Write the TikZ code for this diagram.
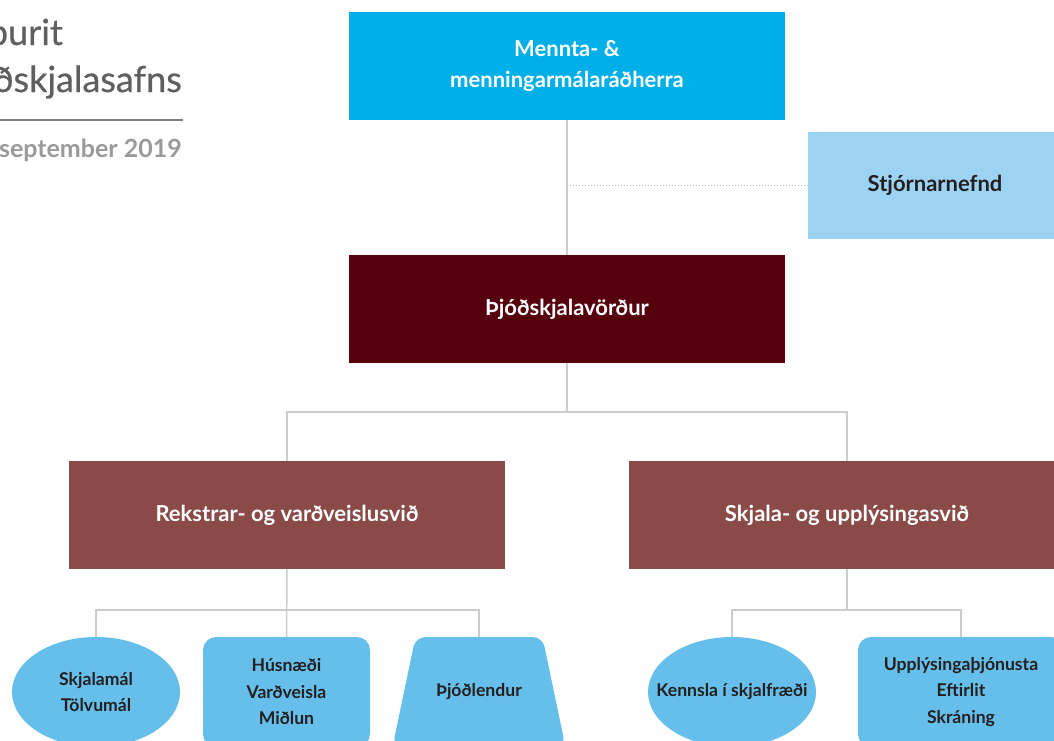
\documentclass[tikz,border=0pt]{standalone}
\usepackage{fontspec}
\setmainfont{Lato}
\newfontfamily\titlefont[FakeBold=0.6]{Lato}
\usetikzlibrary{shapes.geometric}

\definecolor{ministry}{HTML}{00AEE8}
\definecolor{board}{HTML}{9DD3F2}
\definecolor{archivist}{HTML}{56000E}
\definecolor{division}{HTML}{8A4A47}
\definecolor{unit}{HTML}{66BFEA}
\definecolor{ink}{HTML}{231F20}
\definecolor{rule}{HTML}{CCCCCC}
\definecolor{titlegrey}{HTML}{5E5F61}
\definecolor{dategrey}{HTML}{9A9A9A}

\begin{document}
\begin{tikzpicture}[x=1pt, y=-1pt,
  bigbox/.style={rectangle, inner sep=0pt, minimum width=436pt, minimum height=108pt,
    text=white, align=center, font=\fontsize{22}{31}\selectfont\bfseries},
  unitbox/.style={inner sep=0pt, fill=unit, text=ink, align=center,
    minimum height=110pt, font=\fontsize{17.6}{26.5}\selectfont\bfseries},
  titletext/.style={anchor=base east, inner sep=0pt, text=titlegrey, font=\fontsize{36}{40}\titlefont},
  link/.style={draw=rule, line width=1.5pt}]
  \useasboundingbox (0,0) rectangle (1054,740);

  % title, cut at the left edge
  \node[titletext] (ttl1) at (63,45) {Skipurit};
  \node[titletext] (ttl2) at (182,92) {Þjóðskjalasafns};
  \draw[titlegrey!80, line width=2pt] (0,120) -- (183,120);
  \node[anchor=base east, inner sep=0pt, text=dategrey, font=\fontsize{25}{28}\selectfont\bfseries] (date) at (182,157) {september 2019};

  % top levels
  \node[bigbox, fill=ministry] (mrh) at (567,66) {Mennta- \&\\ menningarmálaráðherra};
  \node[bigbox, fill=board, text=ink, minimum width=254pt, minimum height=107pt] (stj) at (935,185.5) {Stjórnarnefnd};
  \node[bigbox, fill=archivist] (thv) at (567,309) {Þjóðskjalavörður};

  % divisions
  \node[bigbox, fill=division] (rek) at (287,515) {Rekstrar- og varðveislusvið};
  \node[bigbox, fill=division] (skj) at (847,515) {Skjala- og upplýsingasvið};

  % units
  \node[unitbox, ellipse, minimum width=168pt] (sja) at (96,692) {Skjalamál\\ Tölvumál};
  \node[unitbox, rectangle, rounded corners=13pt, minimum width=167pt] (hus) at (286.5,692) {Húsnæði\\ Varðveisla\\ Miðlun};
  \node[unitbox, trapezium, trapezium angle=78, trapezium stretches body, inner ysep=46pt,
    rounded corners=10pt, minimum width=173pt] (thl) at (479,692) {Þjóðlendur};
  \node[unitbox, ellipse, inner xsep=-17pt, minimum width=168pt] (ken) at (732,692) {Kennsla í skjalfræði};
  \node[unitbox, rectangle, rounded corners=13pt, minimum width=206pt] (upp) at (961,692) {Upplýsingaþjónusta\\ Eftirlit\\ Skráning};

  % connectors
  \coordinate (brd) at (567,185.5);
  \coordinate (top) at (567,412);
  \coordinate (lft) at (286.5,610);
  \coordinate (rgt) at (847,610);

  \draw[link] (mrh) -- (thv);
  \draw[rule!90!black, line width=1pt, dotted] (brd) -- (stj);
  \draw[link] (thv) -- (top);
  \draw[link] (rek) |- (top) -| (skj);
  \draw[link] (rek) -- (hus);
  \draw[link] (sja) |- (lft) -| (thl);
  \draw[link] (skj) -- (rgt);
  \draw[link] (ken) |- (rgt) -| (upp);
\end{tikzpicture}
\end{document}
